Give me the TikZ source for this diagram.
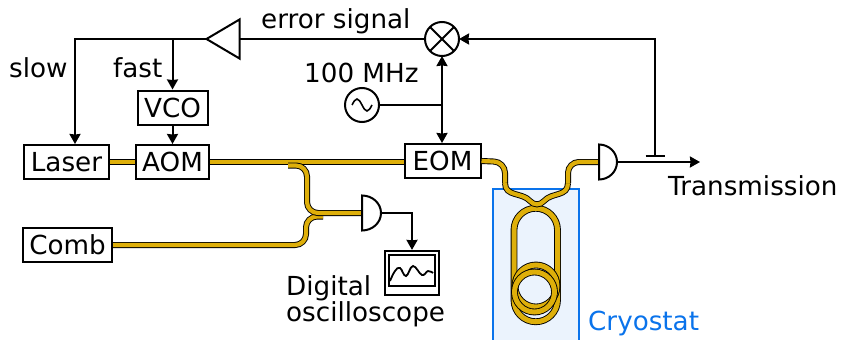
\documentclass[tikz,border=0pt]{standalone}
\usepackage{fontspec}
\setmainfont{DejaVu Sans}
\usepackage{xcolor}
\usetikzlibrary{positioning, arrows.meta, calc, shapes.geometric}
\definecolor{fibercol}{RGB}{222,175,10}
\definecolor{cryoline}{RGB}{10,115,235}
\definecolor{cryofill}{RGB}{235,243,253}

\begin{document}
\begin{tikzpicture}[
  x=1pt, y=1pt,
  box/.style={draw, fill=white, line width=2pt, inner sep=0pt, minimum height=34pt,
              font=\fontsize{26.2}{28}\selectfont},
  lab/.style={inner sep=0pt, anchor=base west, font=\fontsize{26.2}{27}\selectfont},
  arr/.style={-{Stealth[length=10pt,width=11pt,inset=0.5pt]}, line width=2pt},
  wire/.style={line width=2pt},
  fiber/.style={double=fibercol, double distance=4.2pt, line width=0.9pt},
  fibercoil/.style={fiber, double distance=5pt},
  sym/.style={draw, circle, fill=white, line width=2pt, inner sep=0pt, outer sep=0pt, minimum size=34pt},
  det/.style={fill=white, draw, line width=2pt},
]
\useasboundingbox (0,0) rectangle (841,-340);

% cryostat
\fill[cryofill] (493,-189) rectangle (579,-340);
\draw[cryoline, line width=2pt] (493,-340) -- (493,-189) -- (579,-189) -- (579,-340);
\node[lab, text=cryoline] (cryolab) at (588,-330) {Cryostat};

% fibers
\coordinate (pda) at (599,-162);
\coordinate (pdaout) at (617,-162);
\coordinate (pdb) at (362,-213);
\coordinate (pdbout) at (381,-213);
\draw[fiber] (109,-162) -- (136,-162);
\draw[fiber] (209,-162) -- (405,-162);
\draw[fiber, rounded corners=11pt] (112,-245) -- (306,-245) -- (306,-216.5) -- (323,-216.5);
\draw[fiber, rounded corners=11pt] (288,-165.5) -- (307,-165.5) -- (307,-213) -- (pdb);

% boxes
\node[box, minimum width=85pt] (laser) at (66.5,-162) {Laser};
\node[box, minimum width=73pt] (aom) at (172.5,-162) {AOM};
\node[box, minimum width=70pt] (vco) at (172.5,-107.5) {VCO};
\node[box, minimum width=89pt] (comb) at (67.5,-245) {Comb};
\node[box, minimum width=76pt] (eom) at (442.5,-161) {EOM};

% loop
\draw[fibercoil] (514,-230) arc[start angle=180, end angle=0, radius=21.75]
  -- (557.5,-300) arc[start angle=0, end angle=-180, radius=21.75] -- cycle;
\draw[fibercoil] (536,-286) circle[radius=21];
\draw[fibercoil] (534.5,-292) circle[radius=20];
\draw[fiber, rounded corners=11pt] (eom.east) -- (505,-162) -- (505,-183);
\draw[fiber] (505,-183) .. controls (505,-197) and (522,-192) .. (530,-201)
  .. controls (534,-205.5) and (540,-205.5) .. (544,-201)
  .. controls (552,-192) and (568,-197) .. (568,-183);
\draw[fiber, rounded corners=11pt] (568,-183) -- (568,-162) -- (pda);

% detectors
\draw[det] (pda)++(0,17.5) arc[start angle=90, end angle=-90, x radius=18, y radius=17.5] -- cycle;
\draw[det] (pdb)++(0,17.5) arc[start angle=90, end angle=-90, x radius=19, y radius=17.5] -- cycle;

% feedback electronics
\node[sym] (mix) at (442,-39) {};
\draw[line width=2pt] (mix.45) -- (mix.225) (mix.135) -- (mix.315);
\node[sym] (osc) at (362,-105) {};
\draw[line width=1.6pt] ($(osc)+(-10,0)$) sin ++(5,6) cos ++(5,-6) sin ++(5,-6) cos ++(5,6);
\node[draw, isosceles triangle, isosceles triangle stretches, shape border rotate=180,
  line width=2pt, fill=white, inner sep=0pt, outer sep=0pt, minimum height=33pt, minimum width=39pt, anchor=apex] (amp) at (206.5,-39) {};

\coordinate (slowc) at (75,-39);
\coordinate (fastc) at (vco.north|-slowc);
\coordinate (tap) at (655,-155.5);
\coordinate (tapt) at (655,-39);
\coordinate (rfc) at (mix.south|-osc);

\draw[wire] (mix.west) -- (amp.lower side);
\draw[arr] (amp.apex) -- (slowc) -- (slowc|-laser.north);
\draw[arr] (fastc) -- (vco.north);
\draw[arr] (vco.south) -- (aom.north);
\draw[arr] (tap) -- (tapt) -- (mix.east);
\draw[wire] (645.5,-155.5) -- (664.5,-155.5);
\draw[arr, {Stealth[length=10pt,width=11pt,inset=0.5pt]}-{Stealth[length=10pt,width=11pt,inset=0.5pt]}] (mix.south) -- (eom.north-|mix.south);
\draw[wire] (osc.east) -- (rfc);
\coordinate (transend) at (700,-162);
\draw[arr] (pdaout) -- (transend);

% scope
\node[draw, line width=2.2pt, minimum width=54pt, minimum height=44pt, inner sep=0pt] (scope) at (412,-273) {};
\node[draw, line width=2pt, minimum width=46pt, minimum height=31pt, inner sep=0pt] (screen) at (412,-270.5) {};
\draw[line width=1.8pt] plot[smooth, tension=0.7] coordinates {(390,-281) (395,-271) (400,-268) (406,-276) (413,-266) (422,-275) (428,-271) (433,-273)};
\draw[arr] (pdbout) -| (scope.north);

% labels
\node[lab] (errlab) at (261,-28) {error signal};
\node[lab] (slowlab) at (9,-77.5) {slow};
\node[lab] (fastlab) at (113,-77.5) {fast};
\node[lab] (freqlab) at (304,-82) {100 MHz};
\node[lab] (translab) at (668,-195) {Transmission};
\node[lab] (diglab) at (286,-295) {Digital};
\node[lab] (osclab) at (286,-321) {oscilloscope};
\end{tikzpicture}
\end{document}
